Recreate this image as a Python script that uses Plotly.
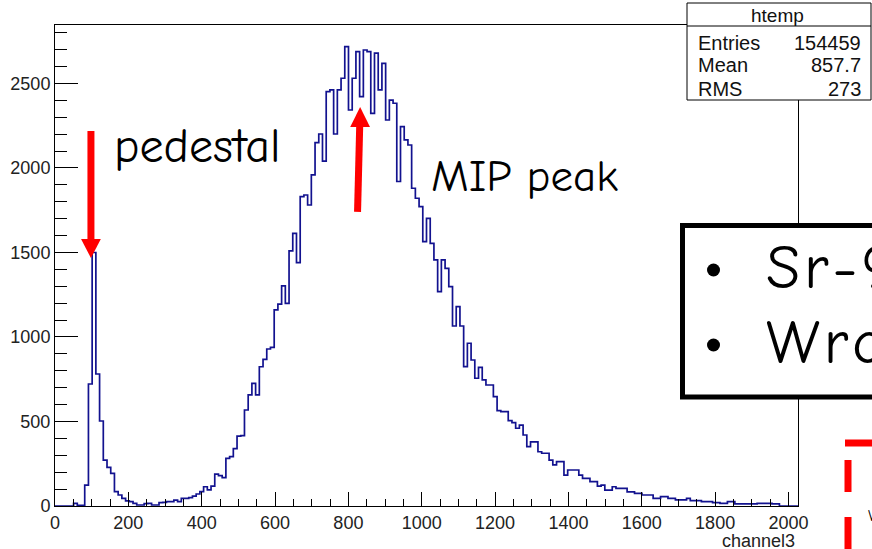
import numpy as np
import plotly.graph_objects as go

# ---------------- data ----------------
x_min, x_max, n_bins = 0.0, 2026.0, 200
counts = [
    0, 0, 0, 0, 0, 16, 4, 4, 124, 722,
    1500, 781, 503, 272, 229, 193, 85, 65, 45, 30,
    26, 16, 6, 6, 14, 16, 6, 6, 20, 22,
    26, 26, 35, 26, 45, 45, 49, 59, 71, 85,
    114, 95, 118, 189, 180, 168, 282, 292, 340, 413,
    416, 568, 657, 726, 657, 824, 868, 929, 939, 1160,
    1195, 1302, 1199, 1510, 1613, 1440, 1830, 1840, 1781, 1959,
    2150, 2201, 2040, 2452, 2462, 2201, 2462, 2531, 2718, 2343,
    2531, 2689, 2422, 2698, 2689, 2323, 2679, 2462, 2619, 2284,
    2402, 2383, 1920, 2245, 2166, 2136, 1880, 1821, 1771, 1564,
    1702, 1554, 1456, 1268, 1456, 1406, 1298, 1065, 1180, 1065,
    825, 963, 864, 756, 820, 746, 716, 716, 647, 564,
    558, 558, 505, 493, 460, 479, 420, 351, 380, 380,
    321, 312, 312, 272, 243, 262, 262, 183, 213, 213,
    213, 183, 164, 164, 144, 144, 118, 124, 94, 94,
    114, 104, 104, 104, 84, 84, 75, 75, 65, 65,
    65, 45, 45, 55, 55, 45, 45, 36, 36, 36,
    45, 32, 32, 32, 26, 26, 26, 20, 20, 16,
    16, 26, 26, 12, 12, 12, 12, 12, 12, 16,
    16, 16, 16, 12, 12, 0, 0, 0, 0, 0,
]
stats_title = "htemp"
stats_labels = ["Entries", "Mean", "RMS"]
stats_values = ["154459", "857.7", "273"]
x_title = "channel3"
x_tickvals = [0, 200, 400, 600, 800, 1000, 1200, 1400, 1600, 1800, 2000]
y_tickvals = [0, 500, 1000, 1500, 2000, 2500]
y_max = 2846

# annotation anchor points (data units)
pedestal_pos = 98
mip_pos = 832

# ---------------- figure ----------------
W, H = 872, 549
ml, mr, mt, mb = 55, 74, 25, 43
pw, ph = W - ml - mr, H - mt - mb


def px(xp):
    return (xp - ml) / pw


def py(yp):
    return (H - mb - yp) / ph


bw = (x_max - x_min) / n_bins
edges = x_min + bw * np.arange(n_bins + 1)
xs = list(edges)
ys = counts + [counts[-1]]

fig = go.Figure()
fig.add_trace(go.Scatter(
    x=xs, y=ys, mode="lines", line_shape="hv",
    line=dict(color="#12128f", width=1.7),
    hoverinfo="skip", showlegend=False,
))

tickfont = dict(family="Liberation Sans, Arial, sans-serif", size=18, color="#222222")
fig.update_xaxes(
    range=[x_min, x_max], tickvals=x_tickvals, ticktext=[str(v) for v in x_tickvals],
    ticks="inside", ticklen=14, tickwidth=1, tickcolor="black",
    minor=dict(dtick=50, ticks="inside", ticklen=7, tickwidth=1, tickcolor="black", showgrid=False),
    showline=True, linecolor="black", linewidth=1, mirror=True,
    showgrid=False, zeroline=False, tickfont=tickfont, automargin=False,
)
fig.update_yaxes(
    range=[0, y_max], tickvals=y_tickvals, ticktext=[str(v) for v in y_tickvals],
    ticks="inside", ticklen=23, tickwidth=1, tickcolor="black",
    minor=dict(dtick=100, ticks="inside", ticklen=12, tickwidth=1, tickcolor="black", showgrid=False),
    showline=True, linecolor="black", linewidth=1, mirror=True,
    showgrid=False, zeroline=False, tickfont=tickfont, automargin=False,
)

shapes = []
annos = []
red = "#ff0000"
hand = "Comic Sans MS, Comic Neue, DejaVu Sans, sans-serif"
hs = "\u200a"  # hair space, widens the narrow fallback handwriting font

# pedestal arrow (pointing down)
shapes.append(dict(type="line", xref="x", yref="y", x0=pedestal_pos, x1=pedestal_pos,
                   y0=2219, y1=1560, line=dict(color=red, width=7)))
shapes.append(dict(type="path", xref="x", yref="y",
                   path=f"M {pedestal_pos-27},1580 L {pedestal_pos+27},1580 L {pedestal_pos},1467 Z",
                   fillcolor=red, line=dict(color=red, width=0)))
# MIP arrow (pointing up)
shapes.append(dict(type="line", xref="x", yref="y", x0=mip_pos - 7, x1=mip_pos - 1,
                   y0=1740, y1=2260, line=dict(color=red, width=7)))
shapes.append(dict(type="path", xref="x", yref="y",
                   path=f"M {mip_pos-27},2243 L {mip_pos+27},2243 L {mip_pos},2361 Z",
                   fillcolor=red, line=dict(color=red, width=0)))

annos.append(dict(xref="x", yref="y", x=155, y=2130, text="pedestal", showarrow=False,
                  xanchor="left", yanchor="middle", font=dict(family=hand, size=48, color="black")))
annos.append(dict(xref="x", yref="y", x=1020, y=1950, text="MIP peak", showarrow=False,
                  xanchor="left", yanchor="middle", font=dict(family=hand, size=45, color="black")))

# stats box
shapes.append(dict(type="rect", xref="paper", yref="paper", x0=px(687), x1=px(871),
                   y0=py(100), y1=py(3), fillcolor="white", line=dict(color="black", width=1),
                   layer="above"))
shapes.append(dict(type="line", xref="paper", yref="paper", x0=px(687), x1=px(871),
                   y0=py(26), y1=py(26), line=dict(color="black", width=1), layer="above"))
statfont = dict(family="Liberation Sans, Arial, sans-serif", size=20, color="#111111")
annos.append(dict(xref="paper", yref="paper", x=px(777), y=py(15), text=stats_title,
                  showarrow=False, xanchor="center", yanchor="middle",
                  font=dict(family="Liberation Sans, Arial, sans-serif", size=19, color="#111111")))
for k, (lab, val) in enumerate(zip(stats_labels, stats_values)):
    yy = py(42.5 + k * 23)
    annos.append(dict(xref="paper", yref="paper", x=px(696), y=yy, text=lab, showarrow=False,
                      xanchor="left", yanchor="middle", font=statfont))
    annos.append(dict(xref="paper", yref="paper", x=px(863), y=yy, text=val, showarrow=False,
                      xanchor="right", yanchor="middle", font=statfont))

# big bullet box
shapes.append(dict(type="rect", xref="paper", yref="paper", x0=px(682.5), x1=px(905),
                   y0=py(397), y1=py(225.5), fillcolor="white", line=dict(color="black", width=5),
                   layer="above"))
for yb in (270, 345):
    shapes.append(dict(type="circle", xref="paper", yref="paper", x0=px(707), x1=px(720),
                       y0=py(yb + 6.5), y1=py(yb - 6.5), fillcolor="black",
                       line=dict(color="black", width=0), layer="above"))
annos.append(dict(xref="paper", yref="paper", x=px(764), y=py(268),
                  text=hs.join("Sr-9"), showarrow=False,
                  xanchor="left", yanchor="middle", font=dict(family=hand, size=62, color="black")))
annos.append(dict(xref="paper", yref="paper", x=px(764), y=py(343),
                  text=hs.join("Wro"), showarrow=False,
                  xanchor="left", yanchor="middle", font=dict(family=hand, size=62, color="black")))

# red dashed box fragment
shapes.append(dict(type="line", xref="paper", yref="paper", x0=px(845), x1=px(905),
                   y0=py(443), y1=py(443), line=dict(color=red, width=7)))
shapes.append(dict(type="line", xref="paper", yref="paper", x0=px(848), x1=px(848),
                   y0=py(460), y1=py(580), line=dict(color=red, width=7, dash="32px,25px")))
annos.append(dict(xref="paper", yref="paper", x=px(866), y=py(516), text="W", showarrow=False,
                  xanchor="left", yanchor="middle", font=dict(family=hand, size=16, color="black")))

# axis title
annos.append(dict(xref="paper", yref="paper", x=px(797), y=py(541), text=x_title, showarrow=False,
                  xanchor="right", yanchor="middle",
                  font=dict(family="Liberation Sans, Arial, sans-serif", size=18, color="#222222")))

fig.update_layout(
    width=W, height=H, margin=dict(l=ml, r=mr, t=mt, b=mb, pad=0),
    paper_bgcolor="white", plot_bgcolor="white",
    shapes=shapes, annotations=annos, showlegend=False,
)
fig.write_html("out.html", config={"displayModeBar": False},
               post_script="document.body.style.margin='0px';document.body.style.overflow='hidden';")
